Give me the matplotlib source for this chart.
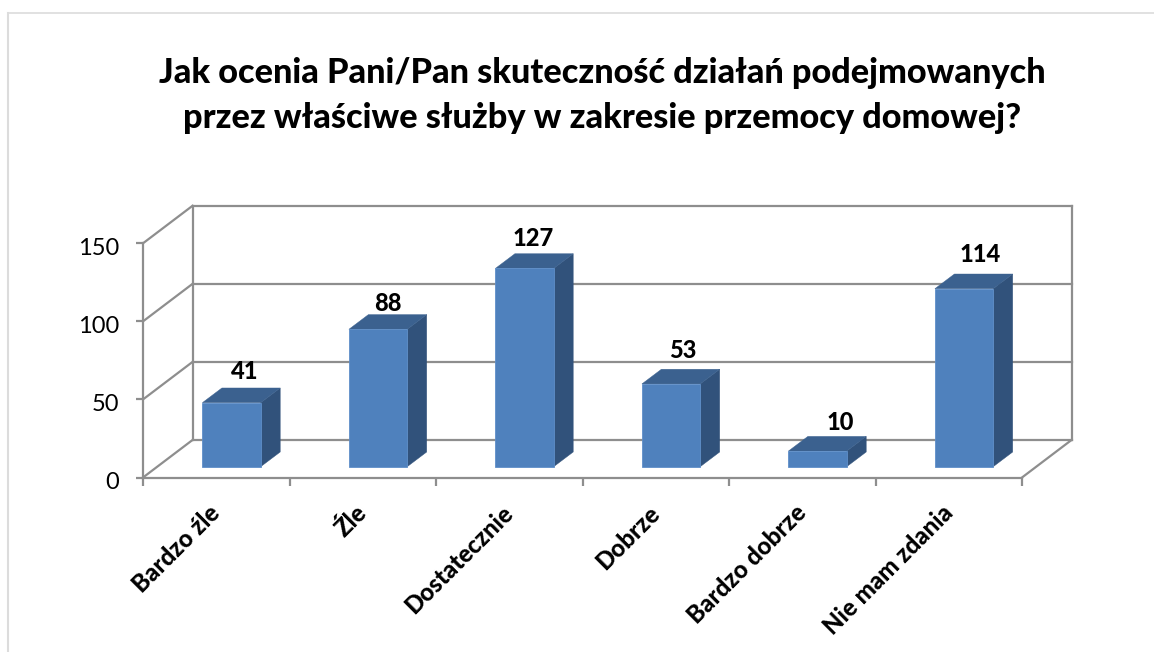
import matplotlib
matplotlib.use("Agg")
import matplotlib.pyplot as plt
from matplotlib.lines import Line2D
from matplotlib.transforms import Affine2D

categories = ["Bardzo źle", "Źle", "Dostatecznie", "Dobrze", "Bardzo dobrze", "Nie mam zdania"]
values = [41, 88, 127, 53, 10, 114]
y_ticks = [0, 50, 100, 150]
title_lines = ["Jak ocenia Pani/Pan skuteczność działań podejmowanych",
               "przez właściwe służby w zakresie przemocy domowej?"]
label_nudges = [(0, -2), (-3, -7), (-4, -3), (-1, 1), (10, -4), (3, 2)]

W, H = 1154, 652
plt.rcParams['font.family'] = ['Lato', 'DejaVu Sans']
fig = plt.figure(figsize=(W / 100, H / 100), dpi=100)
L, R, B, T = 143.0, 1022.0, 477.5, 243.3
ax = fig.add_axes([L / W, 1 - B / H, (R - L) / W, (B - T) / H])
ax.set_xlim(-0.5, 5.5)
ax.set_ylim(0, 150)
ax.patch.set_visible(False)

GRID = '#8e8e8e'
LW = 1.6
WALL_DX, WALL_DY = 49.5, 37.5      # depth of the 3D box, pixels
BAR_DX, BAR_DY = 15.3, 10.8        # bar inset from front plane, pixels
DEPTH_DX, DEPTH_DY = 19.5, 14.7    # bar depth, pixels
BAR_W = 0.398
HEAVY = 900


def shifted(dx, dy):
    return ax.transData + Affine2D().translate(dx, dy)


wall = shifted(WALL_DX, WALL_DY)
xmin, xmax = ax.get_xlim()
# back wall
for v in y_ticks:
    ax.plot([xmin, xmax], [v, v], color=GRID, lw=LW, transform=wall, clip_on=False, zorder=1)
    # side wall diagonal
    x0, y0 = ax.transData.transform((xmin, v))
    fig.add_artist(Line2D([x0 / W, (x0 + WALL_DX) / W], [y0 / H, (y0 + WALL_DY) / H],
                          color=GRID, lw=LW, zorder=1))
for xe in (xmin, xmax):
    ax.plot([xe, xe], [0, y_ticks[-1]], color=GRID, lw=LW, transform=wall, clip_on=False, zorder=1)
# floor right diagonal
x0, y0 = ax.transData.transform((xmax, 0))
fig.add_artist(Line2D([x0 / W, (x0 + WALL_DX) / W], [y0 / H, (y0 + WALL_DY) / H],
                      color=GRID, lw=LW, zorder=1))

# bars
FRONT, SIDE, TOP, EDGE = '#4f81bd', '#31527b', '#3b618f', '#5f8fc9'
bar_tr = shifted(BAR_DX, BAR_DY)
to_data = ax.transData.inverted()
(ox, oy) = to_data.transform((0, 0))
(px, py) = to_data.transform((DEPTH_DX, DEPTH_DY))
ddx, ddy = px - ox, py - oy
for i, v in enumerate(values):
    x0, x1 = i - BAR_W / 2, i + BAR_W / 2
    ax.fill([x1, x1 + ddx, x1 + ddx, x1], [0, ddy, v + ddy, v], color=SIDE, lw=0.3,
            transform=bar_tr, clip_on=False, zorder=3)
    ax.fill([x0, x1, x1 + ddx, x0 + ddx], [v, v, v + ddy, v + ddy], color=TOP, lw=0.3,
            transform=bar_tr, clip_on=False, zorder=3)
ax.bar(range(len(values)), values, width=BAR_W, color=FRONT, edgecolor=EDGE, linewidth=0.6,
       transform=bar_tr, clip_on=False, zorder=4)
for i, v in enumerate(values):
    nx, ny = label_nudges[i]
    ax.text(i + ddx / 2 + 0.02, v + ddy, str(v), transform=shifted(BAR_DX + nx, BAR_DY + 18 + ny),
            ha='center', va='center', fontsize=17, fontweight=HEAVY, color='black', zorder=5)

# axes
for s in ('top', 'right'):
    ax.spines[s].set_visible(False)
for s in ('left', 'bottom'):
    ax.spines[s].set_color(GRID)
    ax.spines[s].set_linewidth(LW)
ax.set_yticks(y_ticks)
ax.set_yticklabels([str(v) for v in y_ticks], fontsize=17, color='black')
ax.tick_params(axis='y', length=5, width=LW, color=GRID, pad=12)
for lab in ax.get_yticklabels():
    lab.set_transform(lab.get_transform() + Affine2D().translate(0, -3))
ax.set_xticks(range(len(categories)))
ax.set_xticklabels(categories, rotation=45, ha='right', va='top', rotation_mode='anchor',
                   fontsize=17.3, fontweight=HEAVY, color='black')
ax.tick_params(axis='x', which='major', length=0, pad=17)
for lab in ax.get_xticklabels():
    lab.set_transform(lab.get_transform() + Affine2D().translate(-8, 0))
ax.set_xticks([i - 0.5 for i in range(len(categories) + 1)], minor=True)
ax.tick_params(axis='x', which='minor', length=6, width=LW, color=GRID)

# title
for line, ypx in zip(title_lines, (73, 118)):
    fig.text(602 / W, 1 - ypx / H, line, ha='center', va='center', fontsize=24.65, fontweight=HEAVY, color='black')

# outer frame
FRAME = '#dcdcdc'
fig.add_artist(Line2D([8 / W, 8 / W], [0, 1 - 12.5 / H], color=FRAME, lw=1.5))
fig.add_artist(Line2D([8 / W, 1], [1 - 12.5 / H, 1 - 12.5 / H], color=FRAME, lw=1.2))

fig.savefig("out.png", dpi=100, facecolor='white')
